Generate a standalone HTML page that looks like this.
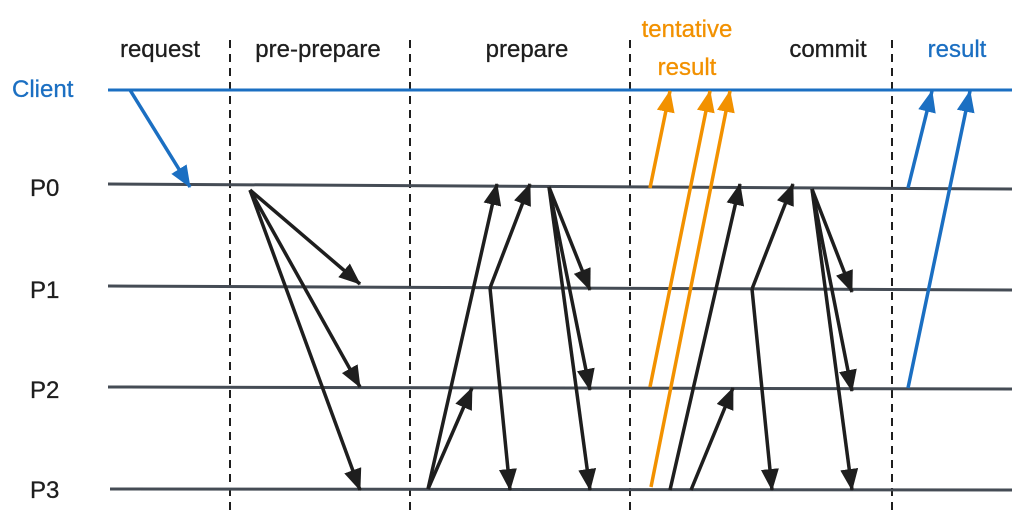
<!DOCTYPE html>
<html><head><meta charset="utf-8"><style>
html,body{margin:0;padding:0;background:#fff;}
svg{display:block;}
text{font-family:"Liberation Sans",sans-serif;}
</style></head><body>
<svg width="1020" height="520" viewBox="0 0 1020 520">
<defs>
<marker id="ak" markerUnits="userSpaceOnUse" markerWidth="24" markerHeight="18" refX="21" refY="9" orient="auto"><path d="M0,0 L22,9 L0,18 Z" fill="#1e1e1e"/></marker>
<marker id="ab" markerUnits="userSpaceOnUse" markerWidth="24" markerHeight="18" refX="21" refY="9" orient="auto"><path d="M0,0 L22,9 L0,18 Z" fill="#1b6fc2"/></marker>
<marker id="ao" markerUnits="userSpaceOnUse" markerWidth="24" markerHeight="18" refX="21" refY="9" orient="auto"><path d="M0,0 L22,9 L0,18 Z" fill="#f29100"/></marker>
</defs>
<g id="phases" font-size="24" fill="#1e1e1e" stroke="#1e1e1e" stroke-width="0.3">
<text x="160" y="57" text-anchor="middle">request</text>
<text x="318" y="57" text-anchor="middle">pre-prepare</text>
<text x="527" y="57" text-anchor="middle">prepare</text>
<text x="687" y="37" text-anchor="middle" fill="#f29100" stroke="#f29100">tentative</text>
<text x="687" y="75" text-anchor="middle" fill="#f29100" stroke="#f29100">result</text>
<text x="828" y="57" text-anchor="middle">commit</text>
<text x="957" y="57" text-anchor="middle" fill="#1b6fc2" stroke="#1b6fc2">result</text>
</g>
<g font-size="24" fill="#1e1e1e" stroke="#1e1e1e" stroke-width="0.3">
<text x="12" y="97" fill="#1b6fc2" stroke="#1b6fc2">Client</text>
<text x="30" y="196">P0</text>
<text x="30" y="298">P1</text>
<text x="30" y="398">P2</text>
<text x="30" y="498">P3</text>
</g>
<g stroke="#1e1e1e" stroke-width="2" stroke-dasharray="8,6">
<line x1="230" y1="40" x2="230" y2="512"/>
<line x1="410" y1="40" x2="410" y2="512"/>
<line x1="630" y1="40" x2="630" y2="512"/>
<line x1="892" y1="40" x2="892" y2="512"/>
</g>
<line x1="108" y1="90" x2="1012" y2="90" stroke="#1b6fc2" stroke-width="3"/>
<g stroke="#454c55" stroke-width="3">
<line x1="108" y1="184" x2="1012" y2="189"/>
<line x1="108" y1="286" x2="1012" y2="290"/>
<line x1="108" y1="387" x2="1012" y2="389"/>
<line x1="110" y1="489" x2="1012" y2="490"/>
</g>
<g stroke-width="3.5" fill="none">
<line x1="130" y1="90" x2="190" y2="187" stroke="#1b6fc2" marker-end="url(#ab)"/>
<g stroke="#1e1e1e" marker-end="url(#ak)">
<line x1="250" y1="190" x2="360" y2="284"/><line x1="250" y1="190" x2="360" y2="387"/><line x1="250" y1="190" x2="360" y2="490"/>
</g>
<g stroke="#1e1e1e" marker-end="url(#ak)">
<line x1="428" y1="489" x2="497" y2="184"/><line x1="428" y1="489" x2="472" y2="388"/>
<line x1="490" y1="288" x2="530" y2="184"/><line x1="490" y1="288" x2="510" y2="490"/>
<line x1="549" y1="187" x2="590" y2="290"/><line x1="549" y1="187" x2="590" y2="390"/><line x1="549" y1="187" x2="590" y2="490"/>
</g>
<g stroke="#f29100" marker-end="url(#ao)">
<line x1="650" y1="188" x2="670" y2="91"/><line x1="650" y1="387" x2="710" y2="91"/><line x1="651" y1="487" x2="730" y2="91"/>
</g>
<g stroke="#1e1e1e" marker-end="url(#ak)">
<line x1="670" y1="490" x2="740" y2="184"/><line x1="691" y1="490" x2="733" y2="388"/>
<line x1="752" y1="289" x2="793" y2="184"/><line x1="752" y1="289" x2="772" y2="490"/>
<line x1="812" y1="189" x2="852" y2="292"/><line x1="812" y1="189" x2="852" y2="391"/><line x1="812" y1="189" x2="852" y2="490"/>
</g>
<g stroke="#1b6fc2" marker-end="url(#ab)">
<line x1="908" y1="188" x2="932" y2="91"/><line x1="908" y1="388" x2="970" y2="91"/>
</g>
</g>
</svg>
</body></html>
